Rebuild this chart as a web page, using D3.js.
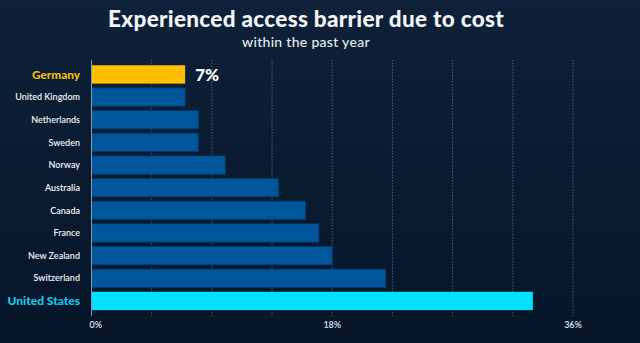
<!DOCTYPE html>
<html>
<head>
<meta charset="utf-8">
<script src="https://cdn.jsdelivr.net/npm/d3@7"></script>
<style>
  html, body { margin: 0; padding: 0; background: #0a1b30; }
  svg { display: block; font-family: Lato, "Open Sans", sans-serif; }
</style>
</head>
<body>
<svg id="chart" width="640" height="343"></svg>
<script>
// Share of adults who skipped care because of cost, past 12 months
const countries = ["Germany", "United Kingdom", "Netherlands", "Sweden", "Norway",
  "Australia", "Canada", "France", "New Zealand", "Switzerland", "United States"];
const values = [7, 7, 8, 8, 10, 14, 16, 17, 18, 22, 33];
const tickValues = [0, 18, 36];
const gridValues = [0, 4.5, 9, 13.5, 18, 22.5, 27, 31.5, 36];
const highlighted = { "Germany": "#fdbf00", "United States": "#00e1ff" };
const labelColors = { "Germany": "#f3bb12", "United States": "#19c9e8" };

const W = 640, H = 343;
const svg = d3.select("#chart");

// background gradient
const defs = svg.append("defs");
const bg = defs.append("linearGradient").attr("id", "bg")
  .attr("x1", 0).attr("y1", 0).attr("x2", 0).attr("y2", 1);
bg.append("stop").attr("offset", "0%").attr("stop-color", "#0e2139");
bg.append("stop").attr("offset", "100%").attr("stop-color", "#061528");
svg.append("rect").attr("width", W).attr("height", H).attr("fill", "url(#bg)");

const x = d3.scaleLinear().domain([0, 36]).range([91.5, 573]);
const y = d3.scaleBand().domain(countries).range([63, 312.4])
  .paddingInner(0.19).paddingOuter(0.1);

// title
svg.append("text").attr("x", 306).attr("y", 27)
  .attr("text-anchor", "middle").attr("fill", "#f2f4f6")
  .attr("font-size", 22.5).attr("font-weight", 900)
  .attr("letter-spacing", 0.3)
  .text("Experienced access barrier due to cost");
svg.append("text").attr("x", 306).attr("y", 47)
  .attr("text-anchor", "middle").attr("fill", "#e6eaee")
  .attr("font-size", 14).attr("font-weight", 500)
  .attr("letter-spacing", 0.3)
  .text("within the past year");

// dotted grid
svg.append("g").selectAll("line").data(gridValues.slice(1)).join("line")
  .attr("x1", d => x(d)).attr("x2", d => x(d))
  .attr("y1", 60).attr("y2", 316)
  .attr("stroke", "#5f7693").attr("stroke-opacity", 0.75)
  .attr("stroke-width", 1).attr("stroke-dasharray", "1.5,1.5");

// bars
svg.append("g").selectAll("rect").data(countries).join("rect")
  .attr("x", x(0))
  .attr("y", d => y(d))
  .attr("width", (d, i) => x(values[i]) - x(0))
  .attr("height", y.bandwidth())
  .attr("fill", d => highlighted[d] || "#00569b")
  .attr("stroke", d => d in highlighted ? "none" : "#04396c")
  .attr("stroke-width", 0.8);

// zero axis line
svg.append("line").attr("x1", x(0)).attr("x2", x(0))
  .attr("y1", 60).attr("y2", 316)
  .attr("stroke", "#8a9bb0").attr("stroke-width", 1);

// category labels
svg.append("g").selectAll("text").data(countries).join("text")
  .attr("x", 80)
  .attr("y", d => y(d) + y.bandwidth() / 2)
  .attr("dy", "0.35em")
  .attr("text-anchor", "end")
  .attr("fill", d => labelColors[d] || "#eef1f4")
  .attr("font-size", d => d === "United States" ? 12 : d === "Germany" ? 11.8 : 9)
  .attr("font-weight", d => d in labelColors ? 900 : 600)
  .text(d => d);

// value label for the first bar
svg.append("text")
  .attr("x", x(values[0]) + 10)
  .attr("y", y(countries[0]) + y.bandwidth() / 2)
  .attr("dy", "0.36em")
  .attr("fill", "#ffffff").attr("font-size", 17).attr("font-weight", 900)
  .text(values[0] + "%");

// x-axis tick labels
svg.append("g").selectAll("text").data(tickValues).join("text")
  .attr("x", d => d === 0 ? x(d) - 2 : x(d))
  .attr("y", 328)
  .attr("text-anchor", d => d === 0 ? "start" : "middle")
  .attr("fill", "#dfe5ec").attr("font-size", 9).attr("font-weight", 600)
  .text(d => d + "%");
</script>
</body>
</html>
